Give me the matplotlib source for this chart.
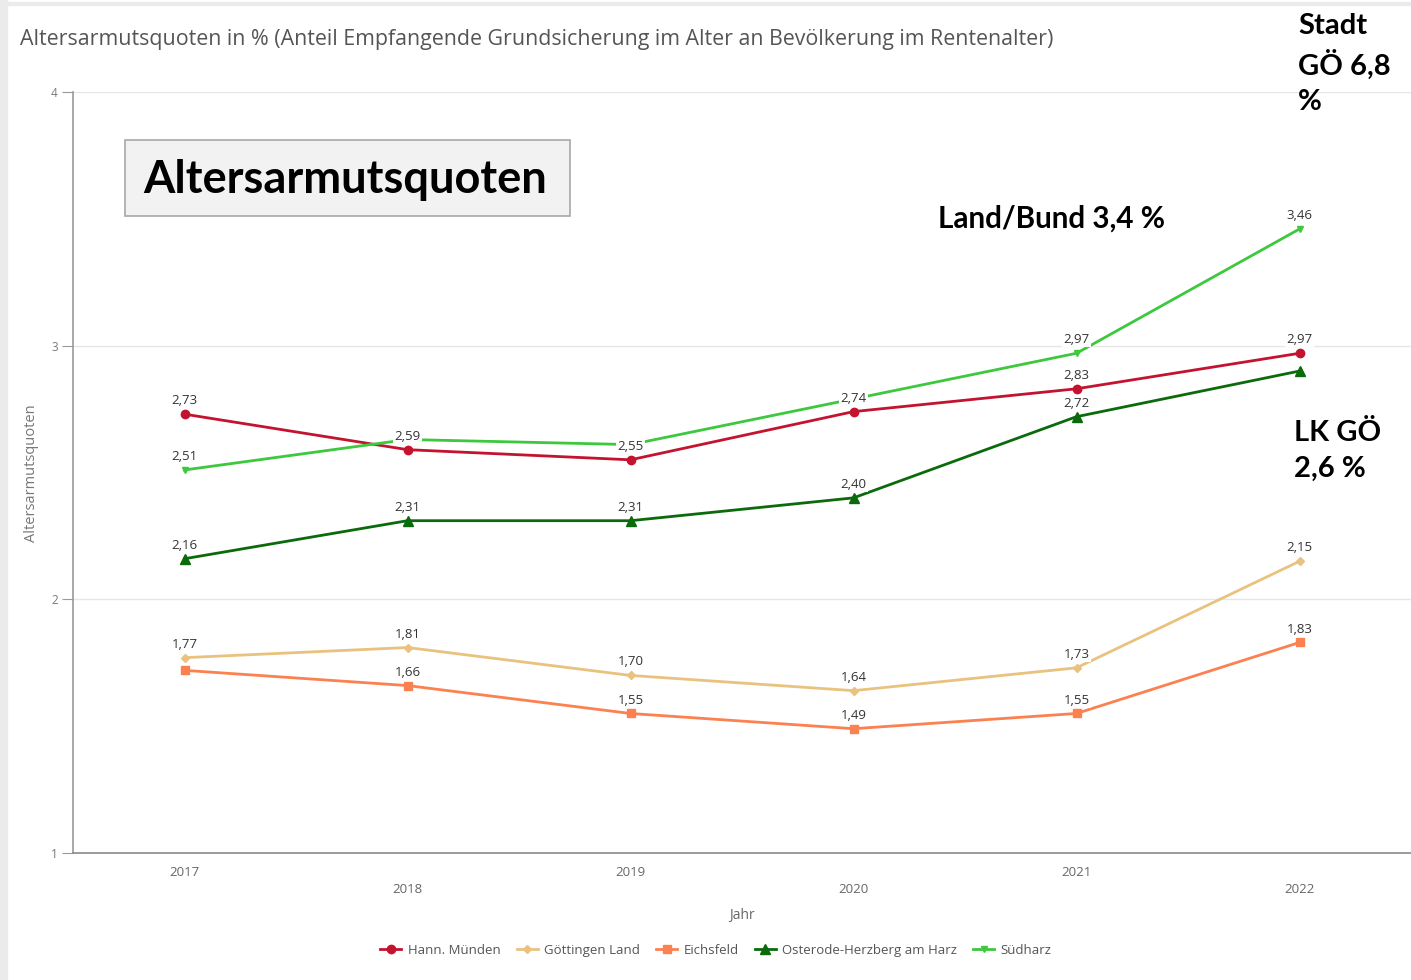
import matplotlib
matplotlib.use("Agg")
import matplotlib.pyplot as plt
from matplotlib.patches import Rectangle

# data
years = [2017, 2018, 2019, 2020, 2021, 2022]
series_names = ["Hann. Münden", "Göttingen Land", "Eichsfeld", "Osterode-Herzberg am Harz", "Südharz"]
hann_muenden = [2.73, 2.59, 2.55, 2.74, 2.83, 2.97]
goettingen_land = [1.77, 1.81, 1.70, 1.64, 1.73, 2.15]
eichsfeld = [1.72, 1.66, 1.55, 1.49, 1.55, 1.83]
osterode = [2.16, 2.31, 2.31, 2.40, 2.72, 2.90]
suedharz = [2.51, 2.63, 2.61, 2.79, 2.97, 3.46]
# which point labels are visible in the chart
show_hm = [1, 1, 1, 1, 1, 1]
show_gl = [1, 1, 1, 1, 1, 1]
show_ei = [0, 1, 1, 1, 1, 1]
show_oh = [1, 1, 1, 1, 1, 0]
show_sh = [1, 0, 0, 0, 1, 1]
y_ticks = [1, 2, 3, 4]

W, H = 1411, 980


def fx(px):
    return px / W


def fy(py):
    return 1 - py / H


fig = plt.figure(figsize=(W / 100, H / 100), dpi=100)
fig.patch.set_facecolor("white")
# light gray page border at left and top
fig.patches.append(Rectangle((0, 0), fx(7), 1, transform=fig.transFigure, color="#ebebeb", zorder=0))
fig.patches.append(Rectangle((0, fy(5)), 1, fx(5), transform=fig.transFigure, color="#ebebeb", zorder=0))

ax = fig.add_axes([fx(73), 127 / H, (W - 73) / W, 761 / H])
ax.set_xlim(2016.5, 2022.5)
ax.set_ylim(1, 4)

series = [
    (hann_muenden, show_hm, "#c3132f", "o", 6),
    (goettingen_land, show_gl, "#e9c27f", "D", 4),
    (eichsfeld, show_ei, "#fb8150", "s", 6),
    (osterode, show_oh, "#0b6a0b", "^", 7),
    (suedharz, show_sh, "#3dc83d", "v", 5),
]

for name, (vals, show, color, marker, ms) in zip(series_names, series):
    ax.plot(years, vals, color=color, lw=2, marker=marker, ms=ms, label=name, zorder=3)
    for x, v, s in zip(years, vals, show):
        if s:
            ax.annotate(f"{v:.2f}".replace(".", ","), (x, v), xytext=(0, 5), textcoords="offset points",
                        ha="center", va="bottom", fontsize=9.5, color="#333333", family="Open Sans",
                        bbox=dict(facecolor="white", edgecolor="none", pad=0.8), zorder=5)

# axes styling
for side in ["top", "right"]:
    ax.spines[side].set_visible(False)
ax.spines["left"].set_color("#9a9a9a")
ax.spines["bottom"].set_color("#8a8a8a")
ax.spines["left"].set_linewidth(1.2)
ax.spines["bottom"].set_linewidth(1.2)
ax.set_yticks(y_ticks)
ax.set_yticklabels([str(t) for t in y_ticks], family="Open Sans", fontsize=8.5, color="#777777")
ax.tick_params(axis="y", length=8, color="#9a9a9a", pad=3)
ax.grid(axis="y", color="#e6e6e6", lw=1)
ax.set_axisbelow(True)

ax.set_xticks(years)
ax.set_xticklabels([str(y) if i % 2 == 0 else "\n" + str(y) for i, y in enumerate(years)],
                   family="Open Sans", fontsize=9.5, color="#666666", linespacing=1.4)
ax.tick_params(axis="x", length=0, pad=9)
ax.set_xlabel("Jahr", family="Open Sans", fontsize=10, color="#666666", labelpad=9)

fig.text(fx(32), fy(473), "Altersarmutsquoten", rotation=90, ha="center", va="center",
         family="Open Sans", fontsize=10.5, color="#777777")

fig.text(fx(20), fy(40), "Altersarmutsquoten in % (Anteil Empfangende Grundsicherung im Alter an Bevölkerung im Rentenalter)",
         ha="left", va="center", family="Open Sans", fontsize=15.4, color="#555555")

ax.legend(loc="center", bbox_to_anchor=(fx(716), fy(950)), bbox_transform=fig.transFigure, ncol=5,
          frameon=False, prop={"family": "Open Sans", "size": 9.5}, labelcolor="#555555",
          handlelength=1.6, columnspacing=1.2, handletextpad=0.5)

# overlay annotations
fig.patches.append(Rectangle((fx(125), fy(216)), fx(445), 76 / H, transform=fig.transFigure,
                             facecolor="#f2f2f2", edgecolor="#a8a8a8", lw=1.2, zorder=4))
fig.text(fx(345), fy(180), "Altersarmutsquoten", ha="center", va="center", family="Lato",
         weight="bold", fontsize=32.5, color="black", zorder=5)
fig.text(fx(938), fy(219), "Land/Bund 3,4 %", ha="left", va="center", family="Lato",
         weight="bold", fontsize=21.3, color="black")
fig.text(fx(1298), fy(64), "Stadt\nGÖ 6,8\n%", ha="left", va="center", family="Lato",
         weight="bold", fontsize=21, color="black", linespacing=1.42)
fig.text(fx(1294), fy(451), "LK GÖ\n2,6 %", ha="left", va="center", family="Lato",
         weight="bold", fontsize=21, color="black", linespacing=1.45)

fig.savefig("out.png", dpi=100)
